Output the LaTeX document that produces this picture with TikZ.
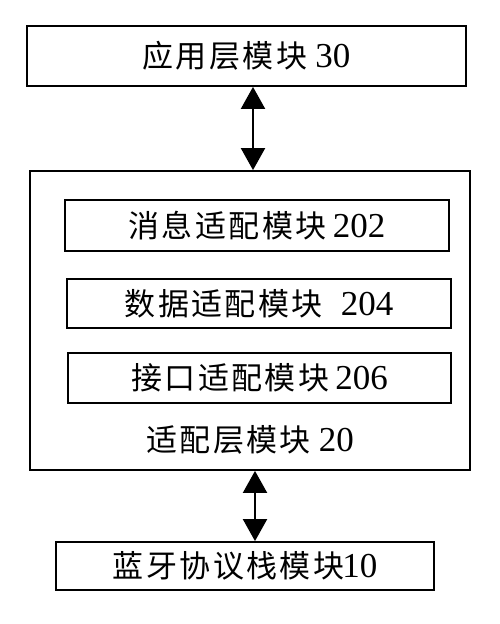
\documentclass[tikz,border=0pt]{standalone}
\usepackage{fontspec}
\setmainfont{Liberation Serif}
\newfontfamily\cjk[LetterSpace=8]{Noto Sans CJK SC}
\usetikzlibrary{arrows.meta}
\newcommand{\zh}[1]{{\cjk\fontsize{31}{34}\selectfont #1}}
\newcommand{\num}[1]{{\fontsize{35}{38}\selectfont #1}}
\tikzset{
  box/.style={draw, line width=1.8pt, rectangle, inner sep=0pt},
  biarrow/.style={line width=2pt, {Triangle[width=24pt,length=22pt]}-{Triangle[width=24pt,length=22pt]}},
}
\begin{document}
\begin{tikzpicture}[x=1pt,y=-1pt]
\useasboundingbox (0,0) rectangle (500,624);
\node[box, minimum width=439pt, minimum height=60pt] (top) at (246.5,56) {\zh{应用层模块}\hspace{8pt}\num{30}};
\node[box, minimum width=440pt, minimum height=299pt] (adapt) at (250,320.5) {};
\node[box, minimum width=384pt, minimum height=51pt] (m202) at (257,225.5) {\zh{消息适配模块}\hspace{6pt}\num{202}};
\node[box, minimum width=384pt, minimum height=49pt] (m204) at (259,303.5) {\zh{数据适配模块}\hspace{18pt}\num{204}};
\node[box, minimum width=383pt, minimum height=50pt] (m206) at (259.5,378) {\zh{接口适配模块}\hspace{6pt}\num{206}};
\node (lbl) at (250,440) {\zh{适配层模块}\hspace{8pt}\num{20}};
\node[box, minimum width=378pt, minimum height=48pt] (bot) at (245,566) {\zh{蓝牙协议栈模块}\hspace{-2pt}\num{10}};
\draw[biarrow] ([xshift=6.5pt]top.south) -- ([xshift=6.5pt]top.south |- adapt.north);
\draw[biarrow] ([xshift=5pt]adapt.south) -- ([xshift=5pt]adapt.south |- bot.north);
\end{tikzpicture}
\end{document}
